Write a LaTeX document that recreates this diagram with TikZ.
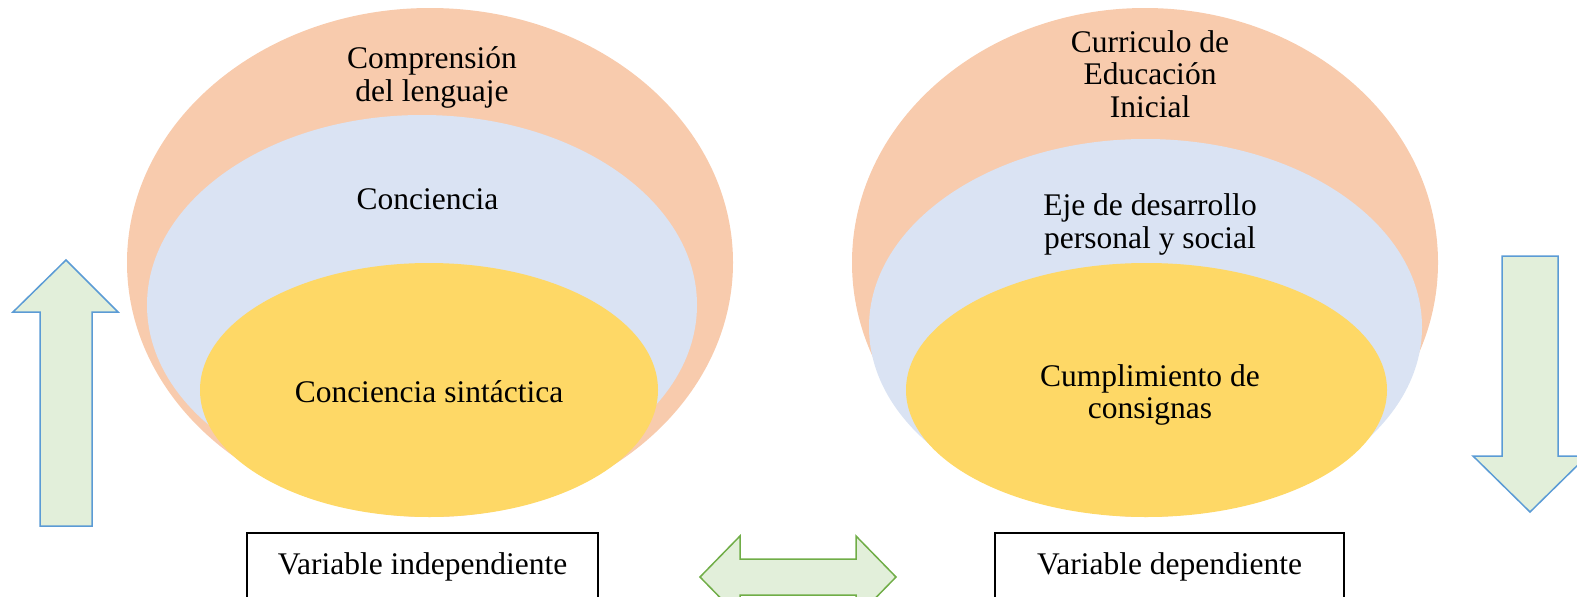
\documentclass[tikz,border=0pt]{standalone}
\usepackage{fontspec}
\setmainfont{Liberation Serif}
\usetikzlibrary{shapes.geometric}
\definecolor{orng}{HTML}{F8CBAD}
\definecolor{blu}{HTML}{DAE3F3}
\definecolor{yel}{HTML}{FED866}
\definecolor{arrfill}{HTML}{E2EFDA}
\definecolor{arrblue}{HTML}{5B9BD5}
\definecolor{arrgreen}{HTML}{70AD47}
\tikzset{
  blob/.style={ellipse, draw=none, inner sep=0pt},
  lbl/.style={align=center, inner sep=0pt, font=\fontsize{31.5}{32.5}\selectfont},
  varbox/.style={draw=black, line width=1.5pt, inner sep=0pt, font=\fontsize{31.5}{32.5}\selectfont},
  vertarrow/.style={fill=arrfill, draw=arrblue, line width=1.5pt, line join=miter},
  horzarrow/.style={fill=arrfill, draw=arrgreen, line width=1.5pt, line join=miter}
}
\begin{document}
\begin{tikzpicture}[x=1pt, y=-1pt]
\useasboundingbox (0,0) rectangle (1577,597);
\clip (0,0) rectangle (1577,597);
% left set of ellipses
\node[blob, fill=orng, minimum width=606pt, minimum height=509pt] (lo) at (430,262.5) {};
\node[blob, fill=blu, minimum width=550pt, minimum height=380pt] (lb) at (422,305) {};
\node[blob, fill=yel, minimum width=458pt, minimum height=254pt] (ly) at (429,390) {};
\node[lbl] (lt1) at (432,77.5) {Comprensión\\del lenguaje};
\node[lbl] (lt2) at (427.5,199) {Conciencia};
\node[lbl] (lt3) at (429,391.5) {Conciencia sintáctica};
% right set of ellipses
\node[blob, fill=orng, minimum width=586pt, minimum height=509pt] (ro) at (1145,262.5) {};
\node[blob, fill=blu, minimum width=553pt, minimum height=376pt] (rb) at (1145.5,327) {};
\node[blob, fill=yel, minimum width=481pt, minimum height=254pt] (ry) at (1146.5,390) {};
\node[lbl] (rt1) at (1150,74) {Curriculo de\\Educación\\Inicial};
\node[lbl] (rt2) at (1150,224.5) {Eje de desarrollo\\personal y social};
\node[lbl] (rt3) at (1150,395) {Cumplimiento de\\consignas};
% variable boxes
\node[varbox, minimum width=351pt, minimum height=68pt] (vi) at (422.5,567) {Variable independiente};
\node[varbox, minimum width=349pt, minimum height=68pt] (vd) at (1169.5,567) {Variable dependiente};
% block arrows
\draw[vertarrow] (40,526) -- (40,312) -- (13,312) -- (66,260) -- (118,312) -- (92,312) -- (92,526) -- cycle;
\draw[vertarrow] (1502,256) -- (1558,256) -- (1558,456) -- (1587,456) -- (1530,512) -- (1473,456) -- (1502,456) -- cycle;
\draw[horzarrow] (700,577) -- (740,536) -- (740,559) -- (856,559) -- (856,536) -- (896,577) -- (856,618) -- (856,595) -- (740,595) -- (740,618) -- cycle;
\end{tikzpicture}
\end{document}
